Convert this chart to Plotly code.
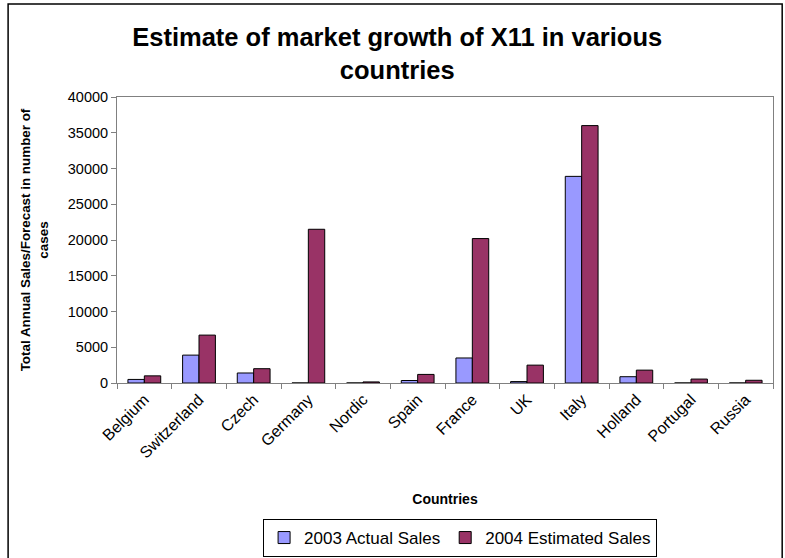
import plotly.graph_objects as go

countries = ["Belgium", "Switzerland", "Czech", "Germany", "Nordic", "Spain",
             "France", "UK", "Italy", "Holland", "Portugal", "Russia"]
sales_2003 = [500, 3900, 1400, 0, 0, 350, 3500, 200, 28900, 880, 0, 0]
sales_2004 = [1000, 6700, 2000, 21500, 150, 1200, 20200, 2500, 36000, 1800, 550, 380]
y_ticks = [0, 5000, 10000, 15000, 20000, 25000, 30000, 35000, 40000]

fig = go.Figure()
fig.add_trace(go.Bar(x=countries, y=sales_2003, name="2003 Actual Sales",
                     marker=dict(color="#9999FF", line=dict(color="black", width=1))))
fig.add_trace(go.Bar(x=countries, y=sales_2004, name="2004 Estimated Sales",
                     marker=dict(color="#993366", line=dict(color="black", width=1))))

fig.update_layout(
    width=785, height=558,
    margin=dict(l=117, r=12, t=97, b=175, autoexpand=False),
    paper_bgcolor="white", plot_bgcolor="white",
    font=dict(family="Liberation Sans, Arial, sans-serif", color="black", size=15),
    barmode="group", bargap=0.40, bargroupgap=0,
    title=dict(text="<b>Estimate of market growth of X11 in various<br>countries</b>",
               x=0.506, xanchor="center", y=0.9176, yanchor="middle",
               font=dict(size=25.5)),
    showlegend=True,
    legend=dict(orientation="h", x=0.523, xanchor="center", y=-0.542, yanchor="middle",
                bordercolor="black", borderwidth=1, font=dict(size=17),
                itemwidth=30, traceorder="normal"),
    xaxis=dict(showline=True, linecolor="#808080", mirror=True, ticks="outside",
               tickson="boundaries", ticklen=5, tickcolor="#808080", tickangle=-45,
               tickfont=dict(size=16), automargin=False,
               title=dict(text="<b>Countries</b>", font=dict(size=14), standoff=33)),
    yaxis=dict(range=[0, 40000], tickvals=y_ticks, tickformat="d", showline=True,
               linecolor="#808080", mirror=True, ticks="outside", ticklen=5,
               tickcolor="#808080", showgrid=False, zeroline=False,
               tickfont=dict(size=14.5), automargin=False,
               title=dict(text="<b>Total Annual Sales/Forecast in number of<br>cases</b>",
                          font=dict(size=13.4), standoff=16)),
)

fig.add_shape(type="rect", xref="paper", yref="paper",
              x0=-0.166, x1=1.014, y0=-0.7, y1=1.325,
              line=dict(color="black", width=1.5), fillcolor="rgba(0,0,0,0)")

fig.write_html("out.html", config={"displayModeBar": False},
               post_script="document.body.style.margin='0';")
